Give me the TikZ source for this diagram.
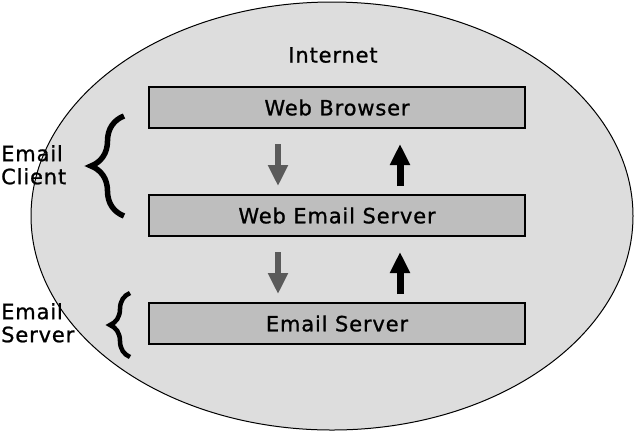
\documentclass[tikz,border=0pt]{standalone}
\usepackage{fontspec}
\setmainfont{DejaVu Sans}[LetterSpace=4,FakeBold=1]
\usetikzlibrary{arrows.meta,positioning,shapes.geometric,decorations.pathreplacing}
\definecolor{cloud}{RGB}{221,221,221}
\definecolor{slab}{RGB}{190,190,190}
\definecolor{dim}{RGB}{90,90,90}
\tikzset{
  layerbox/.style={draw=black,line width=2pt,fill=slab,minimum width=376pt,
    minimum height=41pt,inner sep=0pt,font=\fontsize{21}{24}\selectfont},
  tag/.style={font=\fontsize{21}{23}\selectfont,align=left,inner sep=0pt},
  dnarrow/.style={draw=dim,line width=6pt,-{Triangle[length=21pt,width=19pt]}},
  uparrow/.style={draw=black,line width=7pt,-{Triangle[length=21pt,width=19pt]}},
  bracket/.style={decorate,decoration={brace,amplitude=#1},line width=4.5pt},
}

\begin{document}
\begin{tikzpicture}[x=1pt,y=-1pt]
  \useasboundingbox (0,0) rectangle (636,432);
  \node[ellipse,draw=black,line width=1pt,fill=cloud,minimum width=602pt,minimum height=428pt] (net) at (332,216) {};
  \node[font=\fontsize{21}{24}\selectfont] (inet) at (333,55) {Internet};
  \node[layerbox] (browser) at (337,107.5) {Web Browser};
  \node[layerbox] (websrv) at (337,215.5) {Web Email Server};
  \node[layerbox] (mailsrv) at (337,323.5) {Email Server};
  % request / reply arrows
  \draw[dnarrow] ([xshift=-59pt,yshift=-15pt]browser.south) -- ([xshift=-59pt,yshift=8pt]websrv.north);
  \draw[uparrow] ([xshift=63pt,yshift=8pt]websrv.north) -- ([xshift=63pt,yshift=-15pt]browser.south);
  \draw[dnarrow] ([xshift=-59pt,yshift=-15pt]websrv.south) -- ([xshift=-59pt,yshift=8pt]mailsrv.north);
  \draw[uparrow] ([xshift=63pt,yshift=8pt]mailsrv.north) -- ([xshift=63pt,yshift=-15pt]websrv.south);
  % braces and their labels
  \draw[bracket=33pt,line width=5.5pt] (124,216) -- (124,116);
  \draw[bracket=20pt] (130,357) -- (130,293);
  \node[tag,anchor=north west] (client) at (1,145) {Email\\Client};
  \node[tag,anchor=north west] (server) at (1,303) {Email\\Server};
\end{tikzpicture}
\end{document}
